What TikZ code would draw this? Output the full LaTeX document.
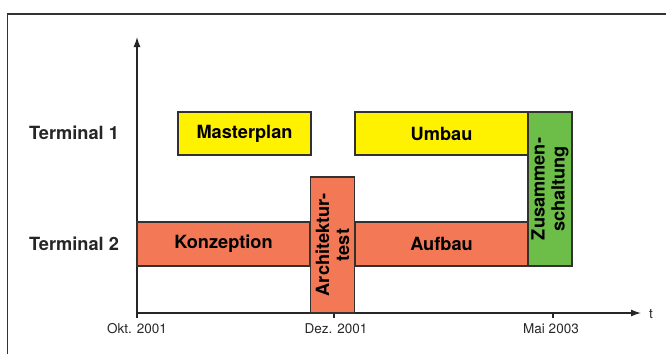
\documentclass[tikz,border=0pt]{standalone}
\usepackage{fontspec}
\setmainfont{TeX Gyre Heros}
\usetikzlibrary{arrows.meta}
\definecolor{yel}{RGB}{255,242,0}
\definecolor{sal}{RGB}{242,120,86}
\definecolor{grn}{RGB}{108,190,72}
\definecolor{edge}{RGB}{51,48,48}
\tikzset{
  box/.style={draw=edge, line width=1.3pt, rectangle, inner sep=0pt, align=center,
    font=\fontsize{18.2}{20}\selectfont\bfseries},
  lbl/.style={font=\fontsize{18.2}{20}\selectfont\bfseries, text=black!85, inner sep=0pt},
  axlbl/.style={font=\fontsize{13.5}{15}\selectfont, text=black!85, inner sep=0pt},
  axis/.style={line width=1.3pt, draw=black!85},
}
\begin{document}
\begin{tikzpicture}[x=1pt,y=-1pt]
\useasboundingbox (0,0) rectangle (666,354);
% frame
\draw[line width=1.3pt, draw=black!80] (7.5,354) -- (7.5,14) -- (666,14);
% axes
\coordinate (o) at (137,313);
\coordinate (ytop) at (137,37);
\coordinate (xend) at (641,313);
\coordinate (tdez) at (334,313);
\coordinate (tmai) at (553,313);
\draw[axis, -{Latex[length=10pt,width=7pt]}] (o) -- (ytop);
\draw[axis, -{Latex[length=10pt,width=7pt]}] (o) -- (xend);
\draw[axis] (o) -- ++(0,5);
\draw[axis] (tdez) -- ++(0,5);
\draw[axis] (tmai) -- ++(0,5);
\node[axlbl, anchor=west] (t) at (649,314.5) {t};
\node[axlbl] (okt) at (137,329) {Okt. 2001};
\node[axlbl] (dez) at (336,329) {Dez. 2001};
\node[axlbl] (mai) at (551,329) {Mai 2003};
% row labels
\node[lbl] (t1) at (74,133) {Terminal 1};
\node[lbl] (t2) at (74,244) {Terminal 2};
% boxes
\node[box, fill=yel, minimum width=133pt, minimum height=43pt] (master) at (244.5,133.5) {Masterplan};
\node[box, fill=yel, minimum width=173pt, minimum height=43pt] (umbau) at (441.5,133.5) {Umbau};
\node[box, fill=sal, minimum width=173pt, minimum height=44pt] (konz) at (223.5,244) {Konzeption};
\node[box, fill=sal, minimum width=173pt, minimum height=44pt] (aufbau) at (441.5,244) {Aufbau};
\node[box, fill=sal, minimum width=136pt, minimum height=44.5pt, rotate=90] (arch) at (332.5,245) {Architektur-\\test};
\node[box, fill=grn, minimum width=154pt, minimum height=44pt, rotate=90] (zus) at (550,189) {Zusammen-\\schaltung};
\end{tikzpicture}
\end{document}
